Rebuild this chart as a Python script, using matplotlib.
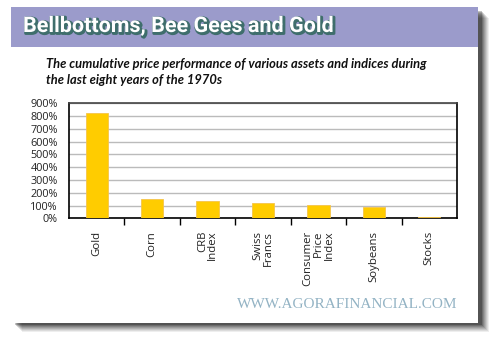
import matplotlib
matplotlib.use("Agg")
import matplotlib.pyplot as plt
import matplotlib.patheffects as pe
from matplotlib.patches import Rectangle

# cumulative price change, 1972-1979 (percent)
assets = ["Gold", "Corn", "CRB\nIndex", "Swiss\nFrancs",
          "Consumer\nPrice\nIndex", "Soybeans", "Stocks"]
change = [825, 150, 132, 122, 108, 90, 8]
yticks = list(range(0, 1000, 100))

W, H = 497, 342


def fx(x):
    return x / W


def fy(y):
    return 1 - y / H


fig = plt.figure(figsize=(W / 100, H / 100), dpi=100)
fig.patch.set_facecolor("white")

# card shadow, fading out to the right and bottom
card_l, card_t, card_r, card_b = 11, 7, 478, 323
for i, a in enumerate([0.10, 0.12, 0.14, 0.16, 0.18, 0.22, 0.28, 0.36]):
    off = 9 - i
    fig.patches.append(Rectangle((fx(card_l + off + 2), fy(card_b + off)),
                                 fx(card_r - card_l), (card_b - card_t - 2) / H,
                                 transform=fig.transFigure, facecolor="black",
                                 alpha=a * 0.65, edgecolor="none", zorder=0))
fig.patches.append(Rectangle((fx(card_l), fy(card_b)), fx(card_r - card_l),
                             (card_b - card_t) / H, transform=fig.transFigure,
                             facecolor="white", edgecolor="none", zorder=1))
# header band
fig.patches.append(Rectangle((fx(card_l), fy(47)), fx(card_r - card_l), 40 / H,
                             transform=fig.transFigure, facecolor="#9b9bcb",
                             edgecolor="none", zorder=2))

fig.text(fx(23), fy(26), "Bellbottoms, Bee Gees and Gold", color="white",
         fontsize=15.5, fontweight="bold", family=["Roboto", "DejaVu Sans"],
         va="center", ha="left", zorder=3,
         path_effects=[pe.Stroke(offset=(1, -1), linewidth=2.2, foreground="#3f6e6c"),
                       pe.Normal()])

fig.text(fx(46), fy(72),
         "The cumulative price performance of various assets and indices during\n"
         "the last eight years of the 1970s",
         color="#111111", fontsize=9.3, fontweight="bold", style="italic",
         family=["Lato", "DejaVu Sans"], va="center", ha="left",
         linespacing=1.35, zorder=3)

fig.text(fx(457), fy(304), "WWW.AGORAFINANCIAL.COM", color="#93b3c4",
         fontsize=11, family=["Liberation Serif", "DejaVu Serif"],
         ha="right", va="center", zorder=3)

ax = fig.add_axes([fx(69), fy(218.3), fx(457 - 69), 115 / H], zorder=4)
ax.set_facecolor("white")
pos = list(range(len(assets)))
ax.bar(pos, change, width=0.4, color="#ffcc00", edgecolor="#f5c44a",
       linewidth=0.6, zorder=3)

ax.set_xlim(-0.5, len(assets) - 0.5)
ax.set_ylim(0, 900)
ax.set_yticks(yticks)
ax.set_yticklabels([f"{v}%" for v in yticks])
ax.yaxis.grid(True, color="#bbbbbb", linewidth=1)
ax.set_axisbelow(True)
ax.tick_params(axis="y", length=0, pad=8, labelsize=7.8, labelcolor="#222222")

ax.set_xticks(pos)
ax.set_xticklabels(assets, rotation=90, va="top", ha="center",
                   multialignment="right", linespacing=0.95)
ax.tick_params(axis="x", which="major", length=0, pad=9, labelsize=8.2,
               labelcolor="#222222")
ax.set_xticks([p + 0.5 for p in pos[:-1]], minor=True)
ax.tick_params(axis="x", which="minor", length=5, width=1, direction="out",
               color="black")

for side in ["left", "right", "bottom"]:
    ax.spines[side].set_color("black")
    ax.spines[side].set_linewidth(1.2)
ax.spines["top"].set_color("#444444")
ax.spines["top"].set_linewidth(1.2)

for lab in ax.get_xticklabels() + ax.get_yticklabels():
    lab.set_family(["Open Sans", "DejaVu Sans"])

fig.savefig("out.png", dpi=100)
